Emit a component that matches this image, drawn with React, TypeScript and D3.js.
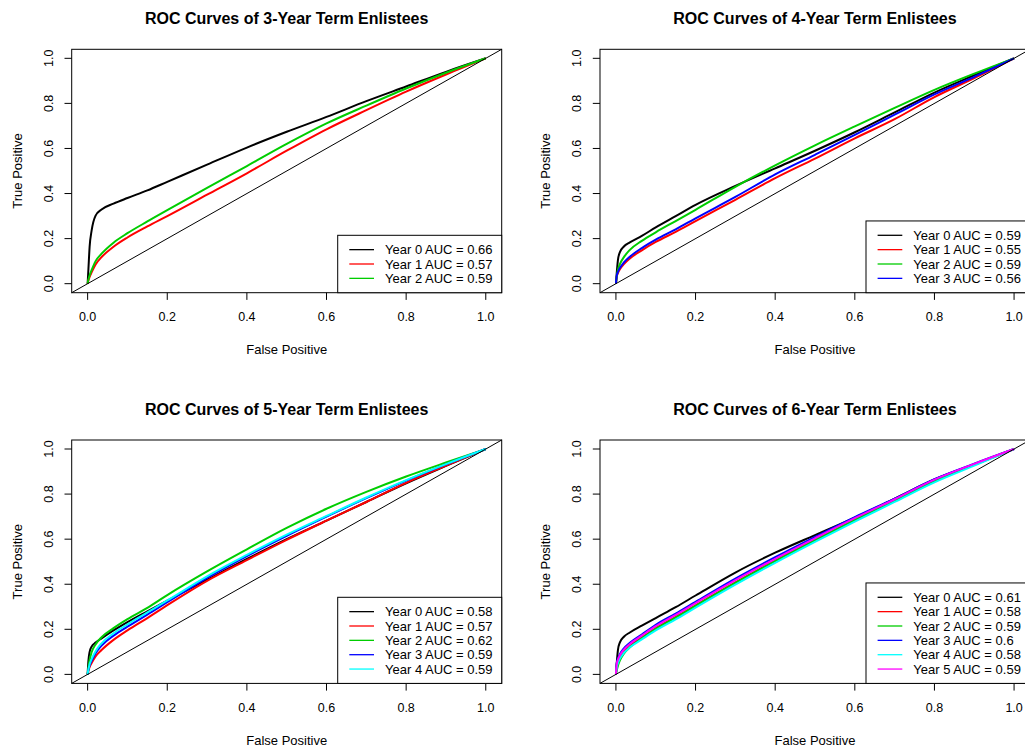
import React from 'react';
import * as d3 from 'd3';

// shared false-positive grid, tpr values at these points
const FPR = [0, 0.002, 0.005, 0.01, 0.02, 0.035, 0.065, 0.1, 0.15, 0.2, 0.3, 0.4, 0.5, 0.6, 0.7, 0.8, 0.9, 1];

const COLORS = ['#000000', '#FF0000', '#00CD00', '#0000FF', '#00FFFF', '#FF00FF'];
const TICKS = [0, 0.2, 0.4, 0.6, 0.8, 1];

const TITLES = [
  'ROC Curves of 3-Year Term Enlistees',
  'ROC Curves of 4-Year Term Enlistees',
  'ROC Curves of 5-Year Term Enlistees',
  'ROC Curves of 6-Year Term Enlistees',
];

const AUC_3 = [0.66, 0.57, 0.59];
const TPR_3 = [
  [0, 0.065, 0.164, 0.235, 0.302, 0.329, 0.355, 0.38, 0.414, 0.452, 0.528, 0.604, 0.674, 0.74, 0.81, 0.875, 0.94, 1],
  [0, 0.014, 0.03, 0.05, 0.085, 0.118, 0.164, 0.205, 0.254, 0.3, 0.395, 0.49, 0.59, 0.685, 0.77, 0.852, 0.928, 1],
  [0, 0.018, 0.037, 0.06, 0.1, 0.133, 0.182, 0.224, 0.276, 0.326, 0.425, 0.522, 0.62, 0.711, 0.79, 0.866, 0.936, 1],
];

const AUC_4 = [0.59, 0.55, 0.59, 0.56];
const TPR_4 = [
  [0, 0.046, 0.105, 0.14, 0.165, 0.183, 0.212, 0.25, 0.3, 0.35, 0.434, 0.512, 0.59, 0.672, 0.76, 0.848, 0.925, 1],
  [0, 0.03, 0.047, 0.064, 0.087, 0.112, 0.148, 0.185, 0.23, 0.278, 0.372, 0.468, 0.555, 0.645, 0.73, 0.828, 0.912, 1],
  [0, 0.03, 0.061, 0.087, 0.118, 0.15, 0.19, 0.228, 0.278, 0.328, 0.43, 0.525, 0.614, 0.698, 0.78, 0.86, 0.932, 1],
  [0, 0.035, 0.052, 0.07, 0.094, 0.12, 0.158, 0.195, 0.241, 0.29, 0.385, 0.485, 0.572, 0.66, 0.75, 0.84, 0.918, 1],
];

const AUC_5 = [0.58, 0.57, 0.62, 0.59, 0.59];
const TPR_5 = [
  [0, 0.06, 0.1, 0.123, 0.141, 0.16, 0.195, 0.232, 0.28, 0.327, 0.42, 0.512, 0.6, 0.682, 0.765, 0.848, 0.925, 1],
  [0, 0.016, 0.032, 0.05, 0.08, 0.108, 0.153, 0.195, 0.25, 0.307, 0.415, 0.507, 0.597, 0.682, 0.765, 0.85, 0.926, 1],
  [0, 0.03, 0.064, 0.098, 0.133, 0.165, 0.205, 0.245, 0.295, 0.352, 0.457, 0.555, 0.65, 0.735, 0.81, 0.878, 0.94, 1],
  [0, 0.02, 0.04, 0.06, 0.094, 0.128, 0.172, 0.212, 0.265, 0.32, 0.428, 0.525, 0.615, 0.7, 0.782, 0.86, 0.932, 1],
  [0, 0.022, 0.045, 0.068, 0.103, 0.138, 0.182, 0.222, 0.275, 0.328, 0.435, 0.53, 0.62, 0.703, 0.785, 0.862, 0.933, 1],
];

const AUC_6 = [0.61, 0.58, 0.59, 0.6, 0.58, 0.59];
const TPR_6 = [
  [0, 0.049, 0.108, 0.142, 0.167, 0.186, 0.216, 0.25, 0.298, 0.35, 0.452, 0.54, 0.618, 0.695, 0.78, 0.865, 0.932, 1],
  [0, 0.03, 0.052, 0.074, 0.1, 0.126, 0.163, 0.205, 0.255, 0.306, 0.408, 0.505, 0.597, 0.686, 0.772, 0.858, 0.93, 1],
  [0, 0.018, 0.038, 0.062, 0.092, 0.12, 0.16, 0.202, 0.252, 0.304, 0.406, 0.503, 0.595, 0.685, 0.771, 0.858, 0.93, 1],
  [0, 0.05, 0.07, 0.09, 0.115, 0.14, 0.177, 0.22, 0.27, 0.322, 0.425, 0.52, 0.61, 0.698, 0.78, 0.866, 0.935, 1],
  [0, 0.03, 0.05, 0.07, 0.095, 0.12, 0.155, 0.195, 0.244, 0.296, 0.398, 0.495, 0.588, 0.678, 0.765, 0.852, 0.926, 1],
  [0, 0.045, 0.065, 0.085, 0.11, 0.135, 0.172, 0.214, 0.264, 0.316, 0.418, 0.513, 0.604, 0.693, 0.777, 0.864, 0.934, 1],
];

const FONT = '"Liberation Sans", Arial, Helvetica, sans-serif';

function Panel({ dx, dy, title, tprs, aucs }) {
  const left = 71.7, right = 501.7, top = 49.3, bottom = 292.7;
  const x = d3.scaleLinear().domain([-0.04, 1.04]).range([left, right]);
  const y = d3.scaleLinear().domain([-0.04, 1.04]).range([bottom, top]);
  const line = d3.line<number>()
    .x((_, i) => x(FPR[i]))
    .y(d => y(d))
    .curve(d3.curveMonotoneX);

  const rowH = 14.35;
  const legW = 164;
  const legLeft = right - legW;
  const legTop = bottom - (aucs.length + 1) * rowH;
  const cx = (left + right) / 2;
  const cy = (top + bottom) / 2;

  return (
    <g transform={`translate(${dx},${dy})`} fontFamily={FONT}>
      <text x={cx} y={24} textAnchor="middle" fontSize={16} fontWeight="bold">{title}</text>

      {tprs.map((t, i) => (
        <path key={i} d={line(t)} fill="none" stroke={COLORS[i]} strokeWidth={2} />
      ))}
      <line x1={x(-0.04)} y1={y(-0.04)} x2={x(1.04)} y2={y(1.04)} stroke="#000" strokeWidth={1} />

      <rect x={left} y={top} width={right - left} height={bottom - top} fill="none" stroke="#000" strokeWidth={1} />

      {TICKS.map(t => (
        <g key={'x' + t}>
          <line x1={x(t)} x2={x(t)} y1={bottom} y2={bottom + 7.2} stroke="#000" />
          <text x={x(t)} y={321} textAnchor="middle" fontSize={12.5}>{t.toFixed(1)}</text>
        </g>
      ))}
      {TICKS.map(t => (
        <g key={'y' + t}>
          <line x1={left - 7.2} x2={left} y1={y(t)} y2={y(t)} stroke="#000" />
          <text transform={`translate(53,${y(t)}) rotate(-90)`} textAnchor="middle" fontSize={12.5}>{t.toFixed(1)}</text>
        </g>
      ))}

      <text x={cx} y={354} textAnchor="middle" fontSize={13}>False Positive</text>
      <text transform={`translate(21.5,${cy}) rotate(-90)`} textAnchor="middle" fontSize={13}>True Positive</text>

      <rect x={legLeft} y={legTop} width={legW} height={bottom - legTop} fill="#fff" stroke="#000" strokeWidth={1} />
      {aucs.map((a, i) => {
        const ry = legTop + (i + 1) * rowH;
        return (
          <g key={'l' + i}>
            <line x1={legLeft + 11.6} x2={legLeft + 36.3} y1={ry} y2={ry} stroke={COLORS[i]} strokeWidth={1.3} />
            <text x={legLeft + 47.3} y={ry + 4.7} fontSize={13}>{`Year ${i} AUC = ${a}`}</text>
          </g>
        );
      })}
    </g>
  );
}

export default function App() {
  const dx = 528.3, dy = 390.7;
  return (
    <svg width={1025} height={749} style={{ position: 'absolute', left: 0, top: 0, background: '#fff' }}>
      <rect width={1025} height={749} fill="#fff" />
      <Panel dx={0} dy={0} title={TITLES[0]} tprs={TPR_3} aucs={AUC_3} />
      <Panel dx={dx} dy={0} title={TITLES[1]} tprs={TPR_4} aucs={AUC_4} />
      <Panel dx={0} dy={dy} title={TITLES[2]} tprs={TPR_5} aucs={AUC_5} />
      <Panel dx={dx} dy={dy} title={TITLES[3]} tprs={TPR_6} aucs={AUC_6} />
    </svg>
  );
}
